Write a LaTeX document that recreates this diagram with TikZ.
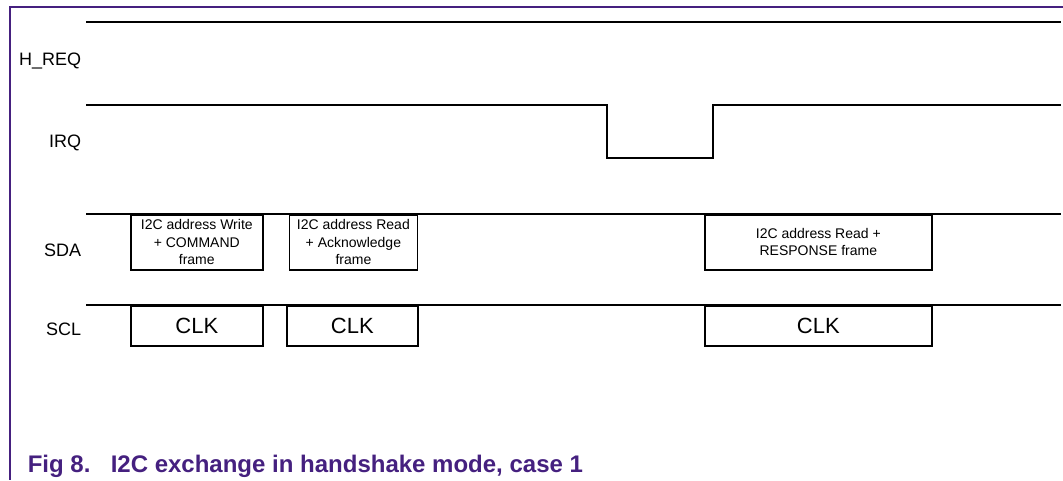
\documentclass[tikz,border=0pt]{standalone}
\usepackage{fontspec}
\setmainfont{Liberation Sans}
\usetikzlibrary{positioning}
\definecolor{nxpurple}{HTML}{45207F}

\begin{document}
\begin{tikzpicture}[x=0.75pt, y=-0.75pt, line width=1.2pt,
    font=\fontsize{13.5}{16}\selectfont,
    siglabel/.style={anchor=east, inner sep=0pt},
    framebox/.style={draw, fill=white, inner sep=1pt, align=center, anchor=north west,
      minimum height=41.25pt, font=\fontsize{10.5}{13}\selectfont},
    clkbox/.style={draw, fill=white, inner sep=1pt, anchor=north west, minimum height=30pt,
      font=\fontsize{16.5}{18}\selectfont},
    caption/.style={anchor=base west, inner sep=0pt, text=nxpurple, font=\fontsize{18}{20}\selectfont\bfseries}]
  \useasboundingbox (0,0) rectangle (1063,480);
  % cornice
  \draw[nxpurple, line width=0.8pt] (1063,7) -- (10,7) -- (10,480);
  % nomi dei segnali
  \node[siglabel] (hreq) at (82,61) {H\_REQ};
  \node[siglabel] (irq) at (82,143) {IRQ};
  \node[siglabel] (sda) at (82,250) {SDA};
  \node[siglabel] (scl) at (82,329) {SCL};
  % H_REQ sempre alto
  \draw[line width=1.6pt] (86,22) -- (1061,22);
  % IRQ con impulso basso
  \draw (86,105) -- (607,105) -- (607,158) -- (713,158) -- (713,105) -- (1061,105);
  % linee SDA e SCL
  \draw (86,214) -- (1061,214);
  \draw (86,305) -- (1061,305);
  % frame SDA
  \node[framebox, minimum width=99pt] (wr) at (130,214) {I2C address Write\\+ COMMAND\\frame};
  \node[framebox, minimum width=96pt, right=18.75pt of wr.north east, anchor=north west] (rd) {I2C address Read\\+ Acknowledge\\frame};
  \node[framebox, minimum width=170.25pt] (resp) at (704,214) {I2C address Read +\\RESPONSE frame};
  % clock SCL
  \node[clkbox, minimum width=99pt] (clk1) at (130,305) {CLK};
  \node[clkbox, minimum width=98.25pt] (clk2) at (286,305) {CLK};
  \node[clkbox, minimum width=170.25pt] (clk3) at (704,305) {CLK};
  % didascalia
  \node[caption] (fig) at (27,472) {Fig 8.};
  \node[caption] (title) at (110,472) {I2C exchange in handshake mode, case 1};
\end{tikzpicture}
\end{document}
